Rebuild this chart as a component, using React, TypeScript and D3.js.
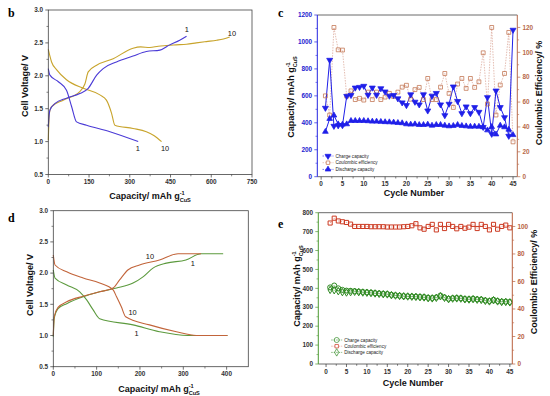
import React from "react";
import * as d3 from "d3";

type Pt = [number, number];
type Lin = d3.ScaleLinear<number, number>;

// ---- panel b: voltage profiles, cycles 1 and 10 ----
const b1Discharge: Pt[] = [[0, 2.11], [6, 2.01], [37, 1.91], [67, 1.78], [86, 1.53], [104, 1.3], [141, 1.25], [227, 1.15], [331, 1.0]];
const b1Charge: Pt[] = [[0, 1.22], [3, 1.4], [6, 1.48], [25, 1.58], [67, 1.66], [116, 1.73], [147, 1.81], [178, 2.01], [202, 2.11], [251, 2.21], [312, 2.3], [361, 2.37], [411, 2.39], [447, 2.47], [484, 2.54], [509, 2.6]];
const b10Discharge: Pt[] = [[0, 2.4], [12, 2.21], [31, 2.09], [67, 1.94], [129, 1.81], [190, 1.71], [214, 1.63], [233, 1.43], [245, 1.25], [312, 1.2], [361, 1.15], [390, 1.09], [417, 1.0]];
const b10Charge: Pt[] = [[0, 1.02], [4, 1.43], [12, 1.53], [55, 1.63], [116, 1.76], [135, 1.88], [147, 2.06], [178, 2.16], [239, 2.26], [312, 2.42], [340, 2.44], [374, 2.43], [405, 2.45], [435, 2.46], [470, 2.47], [509, 2.48], [545, 2.5], [582, 2.52], [620, 2.54], [645, 2.56], [668, 2.59]];

// ---- panel d ----
const d1Discharge: Pt[] = [[0, 2.05], [4, 1.92], [31, 1.81], [61, 1.7], [77, 1.57], [92, 1.41], [107, 1.27], [184, 1.17], [245, 1.06], [310, 1.0], [402, 1.0]];
const d1Charge: Pt[] = [[0, 0.98], [2, 1.27], [11, 1.43], [31, 1.51], [69, 1.62], [107, 1.7], [146, 1.76], [184, 1.84], [207, 1.94], [230, 2.08], [261, 2.16], [306, 2.21], [341, 2.31], [392, 2.31]];
const d10Discharge: Pt[] = [[0, 2.29], [4, 2.13], [31, 2.02], [69, 1.92], [107, 1.84], [138, 1.73], [146, 1.62], [157, 1.46], [167, 1.3], [222, 1.17], [284, 1.06], [330, 1.0], [402, 1.0]];
const d10Charge: Pt[] = [[0, 1.0], [2, 1.3], [11, 1.45], [31, 1.54], [69, 1.63], [107, 1.7], [138, 1.76], [153, 1.89], [172, 2.05], [199, 2.13], [245, 2.21], [288, 2.31], [341, 2.31]];

// ---- panel c: cycling ----
const cycles = d3.range(1, 46);
const cCharge = [510, 866, 376, 380, 381, 598, 605, 660, 665, 673, 606, 660, 606, 655, 631, 600, 605, 580, 550, 530, 610, 555, 535, 610, 490, 600, 620, 535, 455, 540, 668, 560, 470, 520, 470, 515, 480, 368, 589, 317, 638, 515, 440, 302, 1089];
const cDischarge = [334, 430, 455, 390, 388, 390, 415, 415, 415, 415, 413, 410, 410, 408, 406, 405, 403, 400, 398, 390, 388, 390, 385, 385, 388, 380, 385, 385, 380, 375, 378, 385, 378, 375, 372, 373, 372, 368, 345, 370, 315, 380, 368, 350, 310];
const cEff = [65, 49.5, 120, 102, 101.8, 64.8, 69, 62, 63, 61.6, 68, 62, 68, 62, 64, 67, 64.5, 68, 72, 73.5, 62.3, 70, 71.8, 62, 79, 62, 62, 72, 83, 67, 55.7, 74.5, 79, 71, 79, 71.8, 76.3, 99.6, 58.4, 120, 49.6, 73.7, 83, 116, 28];

// ---- panel e ----
const eCharge = [405, 415, 400, 392, 388, 387, 385, 383, 381, 379, 377, 375, 373, 371, 370, 366, 363, 361, 359, 358, 357, 356, 355, 354, 350, 349, 352, 362, 352, 345, 348, 349, 348, 344, 343, 345, 342, 341, 336, 333, 340, 333, 330, 330, 328];
const eDischarge = [392, 390, 385, 380, 378, 380, 382, 380, 378, 377, 375, 373, 371, 369, 368, 364, 362, 360, 358, 357, 356, 355, 353, 352, 348, 347, 350, 358, 350, 343, 346, 347, 346, 342, 341, 343, 340, 339, 334, 331, 337, 331, 328, 328, 326];
const eEff = [102.5, 106, 104, 103.4, 102.9, 101.7, 100, 100, 100, 100, 99.8, 99.8, 99.8, 99.8, 99.6, 99.6, 99.6, 99.6, 99.8, 100, 100.5, 102, 99, 98, 100, 101.5, 97.5, 101.5, 98.5, 101.5, 100, 98.3, 100, 98.7, 99.5, 101.5, 98.5, 101.5, 100, 97.5, 101.5, 98, 100, 101, 99];

const legendNames = ["Charge capacity", "Coulombic efficiency", "Discharge capacity"];

const FONT = "'Liberation Sans', Arial, sans-serif";
const TICK_FS = 6.4;

const sym = (type: d3.SymbolType, size: number) => d3.symbol().type(type).size(size)() as string;

function BottomTicks({ scale, y, major, minor, fmt, color = "#333" }: { scale: Lin; y: number; major: number[]; minor: number[]; fmt: (v: number) => string; color?: string }) {
  return (
    <g>
      {minor.map((t) => (
        <line key={"m" + t} x1={scale(t)} x2={scale(t)} y1={y} y2={y + 1.8} stroke={color} strokeWidth={0.6} />
      ))}
      {major.map((t) => (
        <g key={t}>
          <line x1={scale(t)} x2={scale(t)} y1={y} y2={y + 3} stroke={color} strokeWidth={0.7} />
          <text x={scale(t)} y={y + 9.5} textAnchor="middle" fontSize={TICK_FS} fontWeight="bold" fill="#333">
            {fmt(t)}
          </text>
        </g>
      ))}
    </g>
  );
}

function SideTicks({ scale, x, side, major, minor, fmt, color = "#333", textColor = "#333" }: { scale: Lin; x: number; side: "left" | "right"; major: number[]; minor: number[]; fmt: (v: number) => string; color?: string; textColor?: string }) {
  const k = side === "left" ? -1 : 1;
  return (
    <g>
      {minor.map((t) => (
        <line key={"m" + t} x1={x} x2={x + k * 1.8} y1={scale(t)} y2={scale(t)} stroke={color} strokeWidth={0.6} />
      ))}
      {major.map((t) => (
        <g key={t}>
          <line x1={x} x2={x + k * 3} y1={scale(t)} y2={scale(t)} stroke={color} strokeWidth={0.7} />
          <text x={x + k * 5.2} y={scale(t) + 2.2} textAnchor={side === "left" ? "end" : "start"} fontSize={TICK_FS} fontWeight="bold" fill={textColor}>
            {fmt(t)}
          </text>
        </g>
      ))}
    </g>
  );
}

function CapTitle({ x, y, rotate }: { x: number; y: number; rotate?: boolean }) {
  return (
    <text transform={`translate(${x},${y})${rotate ? " rotate(-90)" : ""}`} textAnchor="middle" fontSize={9} fontWeight="bold" fill="#111">
      Capacity/ mAh g
      <tspan fontSize={5.6} dy={-3.6}>-1</tspan>
      <tspan fontSize={5.6} dx={-5} dy={6.2}>CuS</tspan>
    </text>
  );
}

function Title({ x, y, text, rotate }: { x: number; y: number; text: string; rotate?: boolean }) {
  return (
    <text transform={`translate(${x},${y})${rotate ? " rotate(-90)" : ""}`} textAnchor="middle" fontSize={9} fontWeight="bold" fill="#111">
      {text}
    </text>
  );
}

function Letter({ x, y, t }: { x: number; y: number; t: string }) {
  return (
    <text x={x} y={y} fontFamily="'Liberation Serif', 'Times New Roman', serif" fontWeight="bold" fontSize={12}>
      {t}
    </text>
  );
}

type VoltageProps = {
  box: [number, number, number, number];
  xMax: number;
  xMajor: number[];
  xMinor: number[];
  curves: { data: Pt[]; color: string }[];
  labels: [string, number, number][];
};

function VoltagePanel({ box, xMax, xMajor, xMinor, curves, labels }: VoltageProps) {
  const [l, t, r, b] = box;
  const x = d3.scaleLinear().domain([0, xMax]).range([l, r]);
  const y = d3.scaleLinear().domain([0.5, 3.0]).range([b, t]);
  const line = d3
    .line<Pt>()
    .x((d) => x(d[0]))
    .y((d) => y(d[1]))
    .curve(d3.curveMonotoneX);
  return (
    <g>
      {curves.map((c, i) => (
        <path key={i} d={line(c.data) as string} fill="none" stroke={c.color} strokeWidth={1.1} />
      ))}
      {labels.map(([txt, lx, ly], i) => (
        <text key={i} x={x(lx)} y={y(ly)} textAnchor="middle" dominantBaseline="central" fontSize={7.4} fill="#111">
          {txt}
        </text>
      ))}
      <rect x={l} y={t} width={r - l} height={b - t} fill="none" stroke="#444" strokeWidth={0.8} />
      <BottomTicks scale={x} y={b} major={xMajor} minor={xMinor} fmt={(v) => String(v)} />
      <SideTicks scale={y} x={l} side="left" major={d3.range(0.5, 3.01, 0.5)} minor={d3.range(0.75, 3, 0.5)} fmt={(v) => v.toFixed(1)} />
    </g>
  );
}

type CycleProps = {
  box: [number, number, number, number];
  xDomain: [number, number];
  capMax: number;
  capStep: number;
  effMax: number;
  effTop: number;
  charge: number[];
  discharge: number[];
  eff: number[];
  leftColor: string;
  leftText: string;
  rightColor: string;
  capColor: string;
  effColor: string;
  effLine: string;
  chargeSym: string;
  dischargeSym: string;
  chargeFill: string;
  dischargeFill: string;
  capLineWidth: number;
  markerStroke: number;
  sqSize: number;
  legend: [number, number, number];
};

function CyclePanel(p: CycleProps) {
  const [l, t, r, b] = p.box;
  const x = d3.scaleLinear().domain(p.xDomain).range([l, r]);
  const yc = d3.scaleLinear().domain([0, p.capMax]).range([b, t]);
  const ye = d3.scaleLinear().domain([0, p.effMax]).range([b, t]);
  const capLine = (vals: number[]) =>
    d3
      .line<number>()
      .x((_, i) => x(cycles[i]))
      .y((d) => yc(d))(vals) as string;
  const effPath = d3
    .line<number>()
    .x((_, i) => x(cycles[i]))
    .y((d) => ye(d))(p.eff) as string;
  const sq = sym(d3.symbolSquare, p.sqSize);
  const sqLegend = sym(d3.symbolSquare, 12);
  const [lx, ly, dy] = p.legend;
  const rows = [
    { path: p.chargeSym, fill: p.chargeFill, stroke: p.capColor, line: p.capColor },
    { path: sqLegend, fill: "#fff", stroke: p.effColor, line: p.effLine },
    { path: p.dischargeSym, fill: p.dischargeFill, stroke: p.capColor, line: p.capColor },
  ];
  return (
    <g>
      <path d={effPath} fill="none" stroke={p.effLine} strokeWidth={0.7} strokeDasharray="1.5,1.2" />
      <path d={capLine(p.charge)} fill="none" stroke={p.capColor} strokeWidth={p.capLineWidth} />
      <path d={capLine(p.discharge)} fill="none" stroke={p.capColor} strokeWidth={p.capLineWidth} />
      {p.eff.map((v, i) => (
        <path key={"e" + i} d={sq} transform={`translate(${x(cycles[i])},${ye(v)})`} fill="#fff" fillOpacity={0} stroke={p.effColor} strokeWidth={p.markerStroke} />
      ))}
      {p.charge.map((v, i) => (
        <path key={"c" + i} d={p.chargeSym} transform={`translate(${x(cycles[i])},${yc(v)})`} fill={p.chargeFill} stroke={p.capColor} strokeWidth={p.markerStroke} />
      ))}
      {p.discharge.map((v, i) => (
        <path key={"d" + i} d={p.dischargeSym} transform={`translate(${x(cycles[i])},${yc(v)})`} fill={p.dischargeFill} stroke={p.capColor} strokeWidth={p.markerStroke} />
      ))}
      {/* frame */}
      <line x1={l} x2={r} y1={t} y2={t} stroke="#444" strokeWidth={0.8} />
      <line x1={l} x2={r} y1={b} y2={b} stroke="#444" strokeWidth={0.8} />
      <line x1={l} x2={l} y1={t} y2={b} stroke={p.leftColor} strokeWidth={1} />
      <line x1={r} x2={r} y1={t} y2={b} stroke={p.rightColor} strokeWidth={1} />
      <BottomTicks scale={x} y={b} major={d3.range(0, 46, 5)} minor={d3.range(2.5, 46, 5)} fmt={(v) => String(v)} />
      <SideTicks scale={yc} x={l} side="left" major={d3.range(0, p.capMax + 1, p.capStep)} minor={d3.range(p.capStep / 2, p.capMax, p.capStep)} fmt={(v) => String(v)} color={p.leftColor} textColor={p.leftText} />
      <SideTicks scale={ye} x={r} side="right" major={d3.range(0, p.effTop + 1, 20)} minor={d3.range(10, p.effTop, 20)} fmt={(v) => String(v)} color={p.rightColor} textColor={p.rightColor} />
      {rows.map((row, i) => (
        <g key={i}>
          <line x1={lx - 5.5} x2={lx + 5.5} y1={ly + i * dy} y2={ly + i * dy} stroke={row.line} strokeWidth={0.6} strokeDasharray="1.5,1" />
          <path d={row.path} transform={`translate(${lx},${ly + i * dy})`} fill={row.fill} stroke={row.stroke} strokeWidth={0.7} />
          <text x={lx + 7.5} y={ly + i * dy + 1.6} fontSize={4.6} fill="#222">
            {legendNames[i]}
          </text>
        </g>
      ))}
    </g>
  );
}

export default function App() {
  const triUp = sym(d3.symbolTriangle, 14);
  const triDown = `M0,3.4L-3,-1.7L3,-1.7Z`;
  const circ = sym(d3.symbolCircle, 20);
  const dia = sym(d3.symbolDiamond, 16);
  return (
    <svg width={550} height={396} style={{ position: "absolute", left: 0, top: 0, background: "#fff" }} fontFamily={FONT}>
      <rect width={550} height={396} fill="#fff" />

      {/* b */}
      <Letter x={8} y={17} t="b" />
      <VoltagePanel
        box={[48.3, 10, 252, 174.5]}
        xMax={750}
        xMajor={d3.range(0, 751, 150)}
        xMinor={d3.range(75, 750, 150)}
        curves={[
          { data: b10Discharge, color: "#c8a42c" },
          { data: b10Charge, color: "#c8a42c" },
          { data: b1Discharge, color: "#4a3ad6" },
          { data: b1Charge, color: "#4a3ad6" },
        ]}
        labels={[["1", 510, 2.71], ["10", 676, 2.65], ["1", 330, 0.9], ["10", 430, 0.89]]}
      />
      <Title x={28} y={86} text="Cell Voltage/ V" rotate />
      <CapTitle x={150} y={199} />

      {/* c */}
      <Letter x={278} y={17} t="c" />
      <CyclePanel
        box={[317.3, 15, 517.3, 176.7]}
        xDomain={[-0.9, 46]}
        capMax={1200}
        capStep={200}
        effMax={130}
        effTop={120}
        charge={cCharge}
        discharge={cDischarge}
        eff={cEff}
        leftColor="#2323e0"
        leftText="#2323d0"
        rightColor="#b86a4a"
        capColor="#1f1fe8"
        effColor="#c0704c"
        effLine="#d8a090"
        chargeSym={triDown}
        dischargeSym={triUp}
        chargeFill="#1f1fe8"
        dischargeFill="#1f1fe8"
        capLineWidth={1}
        markerStroke={0.75}
        sqSize={15}
        legend={[328, 156, 6.7]}
      />
      <CapTitle x={294} y={97} rotate />
      <Title x={542} y={93} text="Coulombic Efficiency/ %" rotate />
      <Title x={414} y={196} text="Cycle Number" />

      {/* d */}
      <Letter x={8} y={222} t="d" />
      <VoltagePanel
        box={[53.3, 210.7, 248.3, 366.7]}
        xMax={450}
        xMajor={d3.range(0, 401, 100)}
        xMinor={d3.range(50, 450, 100)}
        curves={[
          { data: d1Discharge, color: "#5c9a3e" },
          { data: d1Charge, color: "#5c9a3e" },
          { data: d10Discharge, color: "#c2643a" },
          { data: d10Charge, color: "#c2643a" },
        ]}
        labels={[["10", 223, 2.27], ["1", 322, 2.15], ["10", 183, 1.37], ["1", 192, 1.04]]}
      />
      <Title x={33} y={285} text="Cell Voltage/ V" rotate />
      <CapTitle x={159} y={392} />

      {/* e */}
      <Letter x={278} y={228} t="e" />
      <CyclePanel
        box={[318.3, 212.7, 512.3, 364]}
        xDomain={[-1.9, 45.6]}
        capMax={800}
        capStep={100}
        effMax={110}
        effTop={100}
        charge={eCharge}
        discharge={eDischarge}
        eff={eEff}
        leftColor="#4e9a34"
        leftText="#333"
        rightColor="#b8603e"
        capColor="#2f8a22"
        effColor="#cc3a22"
        effLine="#e08070"
        chargeSym={circ}
        dischargeSym={dia}
        chargeFill="none"
        dischargeFill="none"
        capLineWidth={0.4}
        markerStroke={1}
        sqSize={17}
        legend={[336.7, 340, 6.2]}
      />
      <CapTitle x={300} y={286} rotate />
      <Title x={537} y={282} text="Coulombic Efficiency/ %" rotate />
      <Title x={413} y={386} text="Cycle Number" />
    </svg>
  );
}
